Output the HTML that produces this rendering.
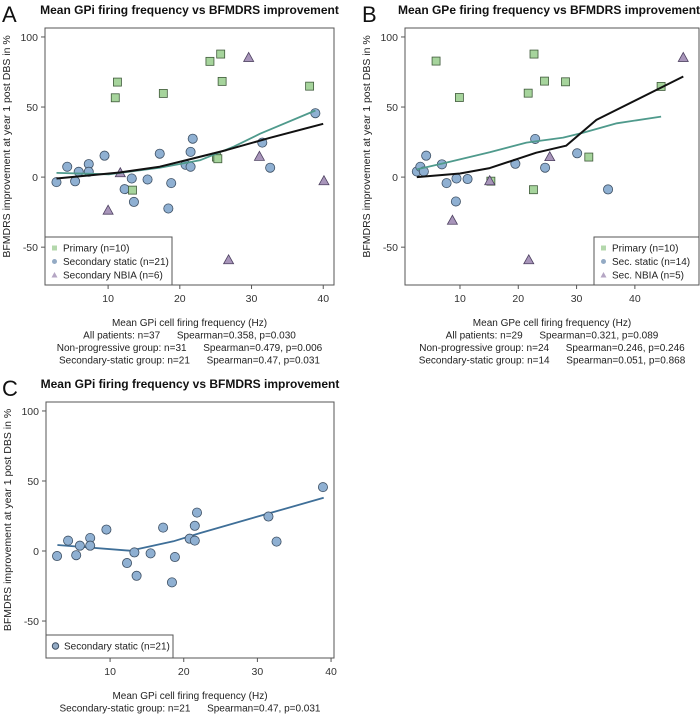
<!DOCTYPE html>
<html><head><meta charset="utf-8">
<style>
body{margin:0;background:#fff;width:700px;height:720px;overflow:hidden;font-family:"Liberation Sans",sans-serif;}
svg text{font-family:"Liberation Sans",sans-serif;white-space:pre;}
</style></head>
<body>
<svg id="fig" width="700" height="720" xmlns="http://www.w3.org/2000/svg"></svg>
<script>
// Panel A data (GPi)
const aStaticX=[2.8,4.3,5.9,5.4,7.3,7.3,9.5,12.3,13.3,13.6,15.5,17.2,18.4,18.8,20.8,21.5,21.5,21.8,31.5,32.6,38.9];
const aStaticY=[-3.6,7.4,3.8,-3,9.3,3.8,15.3,-8.6,-1,-17.7,-1.7,16.7,-22.4,-4.3,8.8,7.4,18,27.4,24.6,6.7,45.6];
const aPrimX=[11.3,11.0,17.7,24.2,25.7,25.9,25.1,25.3,13.4,38.1];
const aPrimY=[67.8,56.6,59.7,82.6,87.8,68.3,14.3,13.1,-9.3,64.9];
const aNbiaX=[29.6,10.0,11.7,31.1,26.8,40.1];
const aNbiaY=[85.4,-23.6,3.1,14.8,-59,-2.6];
const aAllLineX=[2.8,11.6,17.2,21,26.5,32.5,40];
const aAllLineY=[-1,3.3,7.4,12.2,19.3,28,38];
const aNpLineX=[2.8,10.1,17.2,22.8,27.5,31.2,38.9];
const aNpLineY=[3,2,6.7,12,21.7,31,47.5];
// Panel B data (GPe)
const bStaticX=[2.6,3.2,3.8,4.2,6.9,7.7,9.3,9.4,11.3,19.5,22.9,24.6,30.1,35.4];
const bStaticY=[4,7.4,4,15.3,9.1,-4.3,-17.4,-1,-1.4,9.5,27.2,6.7,17,-8.8];
const bPrimX=[5.9,9.9,21.7,22.7,24.5,28.1,32.1,44.5,22.6,15.3];
const bPrimY=[82.8,56.8,59.9,87.8,68.5,68,14.3,64.7,-9,-2.9];
const bNbiaX=[48.3,8.7,21.8,25.4,15.1];
const bNbiaY=[85.4,-30.8,-59,14.6,-2.6];
const bAllLineX=[2.6,10,15.1,23.1,28.2,33.4,48.3];
const bAllLineY=[0,2.6,6.4,17.4,22.4,40.8,71.8];
const bNpLineX=[2.6,7.1,15.1,21.4,27.7,31.1,36.9,44.5];
const bNpLineY=[5.5,9.8,17.7,24.6,28.2,31.7,38.4,43.2];
// Panel C line
const cLineX=[2.85,12.7,18.6,22.2,31.3,39];
const cLineY=[4.3,0.2,6.9,12.8,26.5,38];
const xTicks=[10,20,30,40];
const yTicks=[-50,0,50,100];

const NS="http://www.w3.org/2000/svg";
const svg=document.getElementById('fig');
function mk(tag,attrs,parent){const e=document.createElementNS(NS,tag);for(const k in attrs)e.setAttribute(k,attrs[k]);(parent||svg).appendChild(e);return e;}
function txt(s,attrs,parent){const e=mk('text',attrs,parent);e.textContent=s;return e;}

function panel(cfg){
  const g=mk('g',{});
  
  
  const X=v=>cfg.x0+(v-cfg.xmin)/(cfg.xmax-cfg.xmin)*(cfg.x1-cfg.x0);
  const Y=v=>cfg.y1-(v-cfg.ymin)/(cfg.ymax-cfg.ymin)*(cfg.y1-cfg.y0);
  const fr=mk('rect',{x:cfg.x0,y:cfg.y0,width:cfg.x1-cfg.x0,height:cfg.y1-cfg.y0,fill:'none',stroke:'#555','stroke-width':1},g);
  
  const lt=txt(cfg.letter,{x:cfg.lx,y:cfg.y0-6,'font-size':22,fill:'#111'},g);
  
  const tt=txt(cfg.title,{x:(cfg.x0+cfg.x1)/2+cfg.tdx,y:cfg.y0-14,'font-size':12,'font-weight':'bold','text-anchor':'middle',fill:'#111'},g);
  
  xTicks.forEach(t=>{
    if(t<cfg.xmin||t>cfg.xmax)return;
    mk('line',{x1:X(t),x2:X(t),y1:cfg.y1,y2:cfg.y1+4,stroke:'#555'},g);
    const l=txt(t,{x:X(t),y:cfg.y1+17,'font-size':10.5,'text-anchor':'middle',fill:'#333'},g);
    
  });
  yTicks.forEach(t=>{
    mk('line',{x1:cfg.x0-4,x2:cfg.x0,y1:Y(t),y2:Y(t),stroke:'#555'},g);
    const l=txt(t,{x:cfg.x0-7,y:Y(t)+4,'font-size':10.5,'text-anchor':'end',fill:'#333'},g);
    
  });
  const yt=txt('BFMDRS improvement at year 1 post DBS in %',{x:0,y:0,'font-size':10.5,'text-anchor':'middle',fill:'#222',transform:`translate(${cfg.x0-35},${(cfg.y0+cfg.y1)/2-10}) rotate(-90)`},g);
  
  cfg.foot.forEach((s,i)=>{
    const f=txt(s,{x:(cfg.x0+cfg.x1)/2,y:cfg.y1+41+i*12.5,'font-size':10,'text-anchor':'middle',fill:'#222'},g);
    
  });
  function line(xs,ys,color,w,name){
    const d=xs.map((v,i)=>(i?'L':'M')+X(v).toFixed(1)+','+Y(ys[i]).toFixed(1)).join(' ');
    const p=mk('path',{d:d,fill:'none',stroke:color,'stroke-width':w,'stroke-linejoin':'round'},g);
    
  }
  function pts(xs,ys,shape){
    xs.forEach((v,i)=>{
      const cx=X(v),cy=Y(ys[i]);let e;
      if(shape==='c'){e=mk('circle',{cx:cx,cy:cy,r:4.6,fill:'#8fb0d2',stroke:'#3d4f63','stroke-width':0.8},g);
        }
      else if(shape==='s'){e=mk('rect',{x:cx-4,y:cy-4,width:8,height:8,fill:'#a6d49c',stroke:'#3f5a3a','stroke-width':0.8},g);
        }
      else {e=mk('polygon',{points:`${cx},${cy-5} ${cx-5},${cy+4} ${cx+5},${cy+4}`,fill:'#a895ba',stroke:'#4d4060','stroke-width':0.8},g);
        }
      
    });
  }
  return {X,Y,g,line,pts};
}
function legend(g,x,y,w,h,items){
  const lg=mk('g',{},g);
  
  mk('rect',{x:x,y:y,width:w,height:h,fill:'#fff',stroke:'#555'},lg);
  items.forEach((it,i)=>{
    const yy=y+11+i*13.5;
    if(it[0]==='s')mk('rect',{x:x+7,y:yy-2.5,width:5,height:5,fill:'#b4d8ac'},lg);
    else if(it[0]==='c')mk('circle',{cx:x+9.5,cy:yy,r:it[2]||2.5,fill:'#93aac4',stroke:it[2]?'#3d4f63':'none'},lg);
    else mk('polygon',{points:`${x+9.5},${yy-3} ${x+6.5},${yy+2.5} ${x+12.5},${yy+2.5}`,fill:'#b5a6c4'},lg);
    const t=txt(it[1],{x:x+18,y:yy+3.5,'font-size':10,fill:'#222'},lg);
    
  });
}
// Panel A
const A=panel({name:'panel-a',letter:'A',lx:2,tdx:0,title:'Mean GPi firing frequency vs BFMDRS improvement',x0:45,x1:334,y0:28,y1:285,xmin:1.2,xmax:41.5,ymin:-77,ymax:106.4,
  foot:['Mean GPi cell firing frequency (Hz)','All patients: n=37      Spearman=0.358, p=0.030','Non-progressive group: n=31      Spearman=0.479, p=0.006','Secondary-static group: n=21      Spearman=0.47, p=0.031']});
A.pts(aStaticX,aStaticY,'c');A.pts(aPrimX,aPrimY,'s');A.pts(aNbiaX,aNbiaY,'t');
A.line(aNpLineX,aNpLineY,'#4f9a8c',1.8,'lowess-nonprogressive');
A.line(aAllLineX,aAllLineY,'#111',2,'lowess-all');
legend(A.g,45,237,127,48,[['s','Primary (n=10)'],['c','Secondary static (n=21)'],['t','Secondary NBIA (n=6)']]);
// Panel B
const B=panel({name:'panel-b',letter:'B',lx:362,tdx:-3,title:'Mean GPe firing frequency vs BFMDRS improvement',x0:405,x1:699,y0:28,y1:285,xmin:0.57,xmax:51,ymin:-77,ymax:106.4,
  foot:['Mean GPe cell firing frequency (Hz)','All patients: n=29      Spearman=0.321, p=0.089','Non-progressive group: n=24      Spearman=0.246, p=0.246','Secondary-static group: n=14      Spearman=0.051, p=0.868']});
B.pts(bStaticX,bStaticY,'c');B.pts(bPrimX,bPrimY,'s');B.pts(bNbiaX,bNbiaY,'t');
B.line(bNpLineX,bNpLineY,'#4f9a8c',1.8,'lowess-nonprogressive');
B.line(bAllLineX,bAllLineY,'#111',2,'lowess-all');
legend(B.g,594,237,105,48,[['s','Primary (n=10)'],['c','Sec. static (n=14)'],['t','Sec. NBIA (n=5)']]);
// Panel C
const C=panel({name:'panel-c',letter:'C',lx:2,tdx:0,title:'Mean GPi firing frequency vs BFMDRS improvement',x0:46,x1:334,y0:402,y1:658,xmin:1.3,xmax:40.4,ymin:-76.4,ymax:106.4,
  foot:['Mean GPi cell firing frequency (Hz)','Secondary-static group: n=21      Spearman=0.47, p=0.031']});
C.line(cLineX,cLineY,'#3f6f98',1.8,'lowess-secondary-static');
C.pts(aStaticX,aStaticY,'c');
legend(C.g,46,635,127,23,[['c','Secondary static (n=21)',3.2]]);
</script>
</body></html>
